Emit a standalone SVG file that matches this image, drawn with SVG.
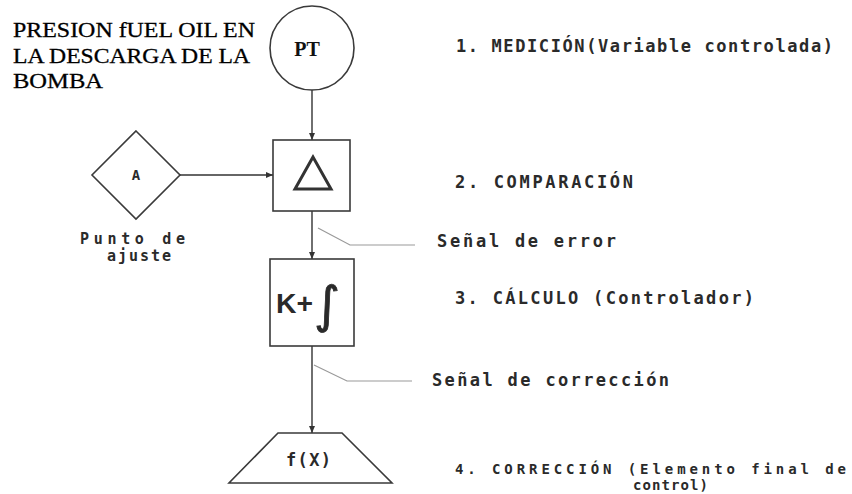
<svg xmlns="http://www.w3.org/2000/svg" width="852" height="494" viewBox="0 0 852 494">
<style>
.shape{fill:#fff;stroke:#3a3a3a;stroke-width:1.6}
.conn{stroke:#333;stroke-width:1.4;fill:none}
.lead{stroke:#999;stroke-width:1.2;fill:none}
.lbl{font-family:"DejaVu Sans Mono","Liberation Mono",monospace;font-weight:bold;font-size:17px;fill:#2a2a2a}
.sm{font-size:14px}
.two{font-size:15px}
.two2{font-size:14px}
.serif{font-family:"Liberation Serif","Times New Roman",serif;font-size:21px;fill:#000;stroke:#000;stroke-width:0.3}
</style>
<defs>
<marker id="arr" markerWidth="8" markerHeight="8" refX="7" refY="4" orient="auto" markerUnits="userSpaceOnUse">
<path d="M0,1 L7,4 L0,7 Z" fill="#333"/>
</marker>
</defs>
<rect width="852" height="494" fill="#fff"/>

<g id="title">
<text class="serif" x="13" y="37" textLength="242" lengthAdjust="spacingAndGlyphs">PRESION fUEL OIL EN</text>
<text class="serif" x="13" y="63" textLength="237" lengthAdjust="spacingAndGlyphs">LA DESCARGA DE LA</text>
<text class="serif" x="13" y="88" textLength="90" lengthAdjust="spacingAndGlyphs">BOMBA</text>
</g>

<g id="connectors">
<line class="conn" x1="312" y1="90" x2="312" y2="140" marker-end="url(#arr)"/>
<line class="conn" x1="180" y1="175" x2="273" y2="175" marker-end="url(#arr)"/>
<line class="conn" x1="312" y1="211" x2="312" y2="259" marker-end="url(#arr)"/>
<line class="conn" x1="312" y1="346" x2="312" y2="433" marker-end="url(#arr)"/>
<polyline class="lead" points="318,228 350,245 415,245"/>
<polyline class="lead" points="314,365 347,381 412,381"/>
</g>

<g id="pt">
<circle class="shape" cx="312" cy="48" r="42" stroke-width="2"/>
<text x="307" y="56" text-anchor="middle" font-family="Liberation Serif,serif" font-weight="bold" font-size="20" fill="#111">PT</text>
</g>

<g id="setpoint">
<polygon class="shape" points="136,131 180,175 136,219 92,175"/>
<text class="lbl sm" x="136" y="180" text-anchor="middle">A</text>
<text class="lbl two" x="80" y="244" textLength="105" lengthAdjust="spacing">Punto de</text>
<text class="lbl two" x="107" y="261" textLength="64" lengthAdjust="spacing">ajuste</text>
</g>

<g id="comparator">
<rect class="shape" x="273" y="140" width="77" height="71"/>
<polygon points="313,157 295,189 331,189" fill="#fff" stroke="#333" stroke-width="3" stroke-linejoin="miter"/>
</g>

<g id="controller">
<rect class="shape" x="270" y="259" width="84" height="87"/>
<text x="276" y="313" font-family="Liberation Sans,Arial,sans-serif" font-weight="bold" font-size="27" fill="#2a2a2a" textLength="37" lengthAdjust="spacingAndGlyphs">K+</text>
<text x="314" y="322" font-family="DejaVu Sans,sans-serif" font-size="50" fill="#2a2a2a" stroke="#2a2a2a" stroke-width="0.8">∫</text>
</g>

<g id="final">
<polygon class="shape" points="278,433 342,433 392,483 229,483"/>
<text class="lbl" x="286" y="466" font-size="16" textLength="45" lengthAdjust="spacing">f(X)</text>
</g>

<g id="labels">
<text class="lbl" x="456" y="52" textLength="377" lengthAdjust="spacing">1. MEDICIÓN(Variable controlada)</text>
<text class="lbl" x="455" y="188" textLength="178" lengthAdjust="spacing">2. COMPARACIÓN</text>
<text class="lbl" x="437" y="247" textLength="179" lengthAdjust="spacing">Señal de error</text>
<text class="lbl" x="455" y="304" textLength="299" lengthAdjust="spacing">3. CÁLCULO (Controlador)</text>
<text class="lbl" x="432" y="386" textLength="237" lengthAdjust="spacing">Señal de corrección</text>
<text class="lbl two2" x="455" y="474" textLength="391" lengthAdjust="spacing">4. CORRECCIÓN (Elemento final de</text>
<text class="lbl two2" x="633" y="490" textLength="75" lengthAdjust="spacing">control)</text>
</g>
</svg>
